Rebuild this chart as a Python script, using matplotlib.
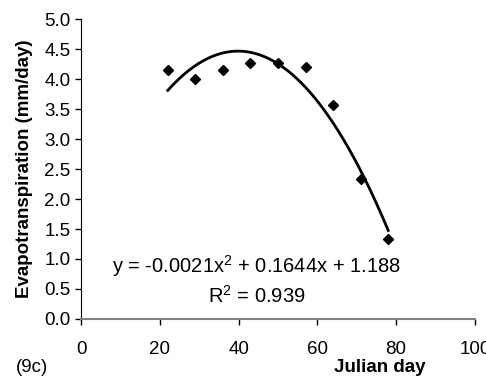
import matplotlib.pyplot as plt
import numpy as np

# Veri: Julian gunu ve evapotranspirasyon (mm/gun)
julian_day = [22, 29, 36, 43, 50, 57, 64, 71, 78]
et_mm_day = [4.15, 4.00, 4.15, 4.26, 4.26, 4.20, 3.57, 2.33, 1.33]

x_ticks = [0, 20, 40, 60, 80, 100]
y_ticks = [0.0, 0.5, 1.0, 1.5, 2.0, 2.5, 3.0, 3.5, 4.0, 4.5, 5.0]

eq_text = 'y = -0.0021x$^{2}$ + 0.1644x + 1.188'
r2_text = 'R$^{2}$ = 0.939'
panel_tag = '(9c)'

plt.rcParams['font.family'] = ['Liberation Sans', 'DejaVu Sans']
plt.rcParams['mathtext.fontset'] = 'custom'
plt.rcParams['mathtext.rm'] = 'Liberation Sans'

fig = plt.figure(figsize=(4.86, 3.82), dpi=100)
ax = fig.add_axes([0.167, 0.165, 0.810, 0.785])

# Olcum noktalari
ax.plot(julian_day, et_mm_day, linestyle='none', marker='D', markersize=5,
        color='black')

# Ikinci derece polinom egrisi (veriden uydurulmus)
coef = np.polyfit(julian_day, et_mm_day, 2)
xs = np.linspace(min(julian_day), max(julian_day), 200)
ax.plot(xs, np.polyval(coef, xs), color='black', linewidth=2)

ax.text(44.5, 0.88, eq_text, ha='center', va='center', fontsize=14.5)
ax.text(44.5, 0.38, r2_text, ha='center', va='center', fontsize=14.5)

ax.set_xlim(0, 100)
ax.set_ylim(0, 5)
ax.set_xticks(x_ticks)
ax.set_yticks(y_ticks)
ax.set_yticklabels([f'{v:.1f}' for v in y_ticks])
ax.tick_params(labelsize=13.5, length=4, width=1, direction='out')
ax.tick_params(axis='x', pad=12)

for side in ['top', 'right']:
    ax.spines[side].set_visible(False)
ax.spines['bottom'].set_color('#808080')
ax.spines['bottom'].set_linewidth(1.5)
ax.spines['left'].set_color('black')

ax.set_ylabel('Evapotranspiration (mm/day)', fontsize=13.5, fontweight='bold',
              labelpad=8)
fig.text(0.782, 0.039, 'Julian day', ha='center', va='center', fontsize=13.5,
         fontweight='bold')
fig.text(0.066, 0.039, panel_tag, ha='center', va='center', fontsize=13.5)

plt.savefig('out.png', dpi=100)
